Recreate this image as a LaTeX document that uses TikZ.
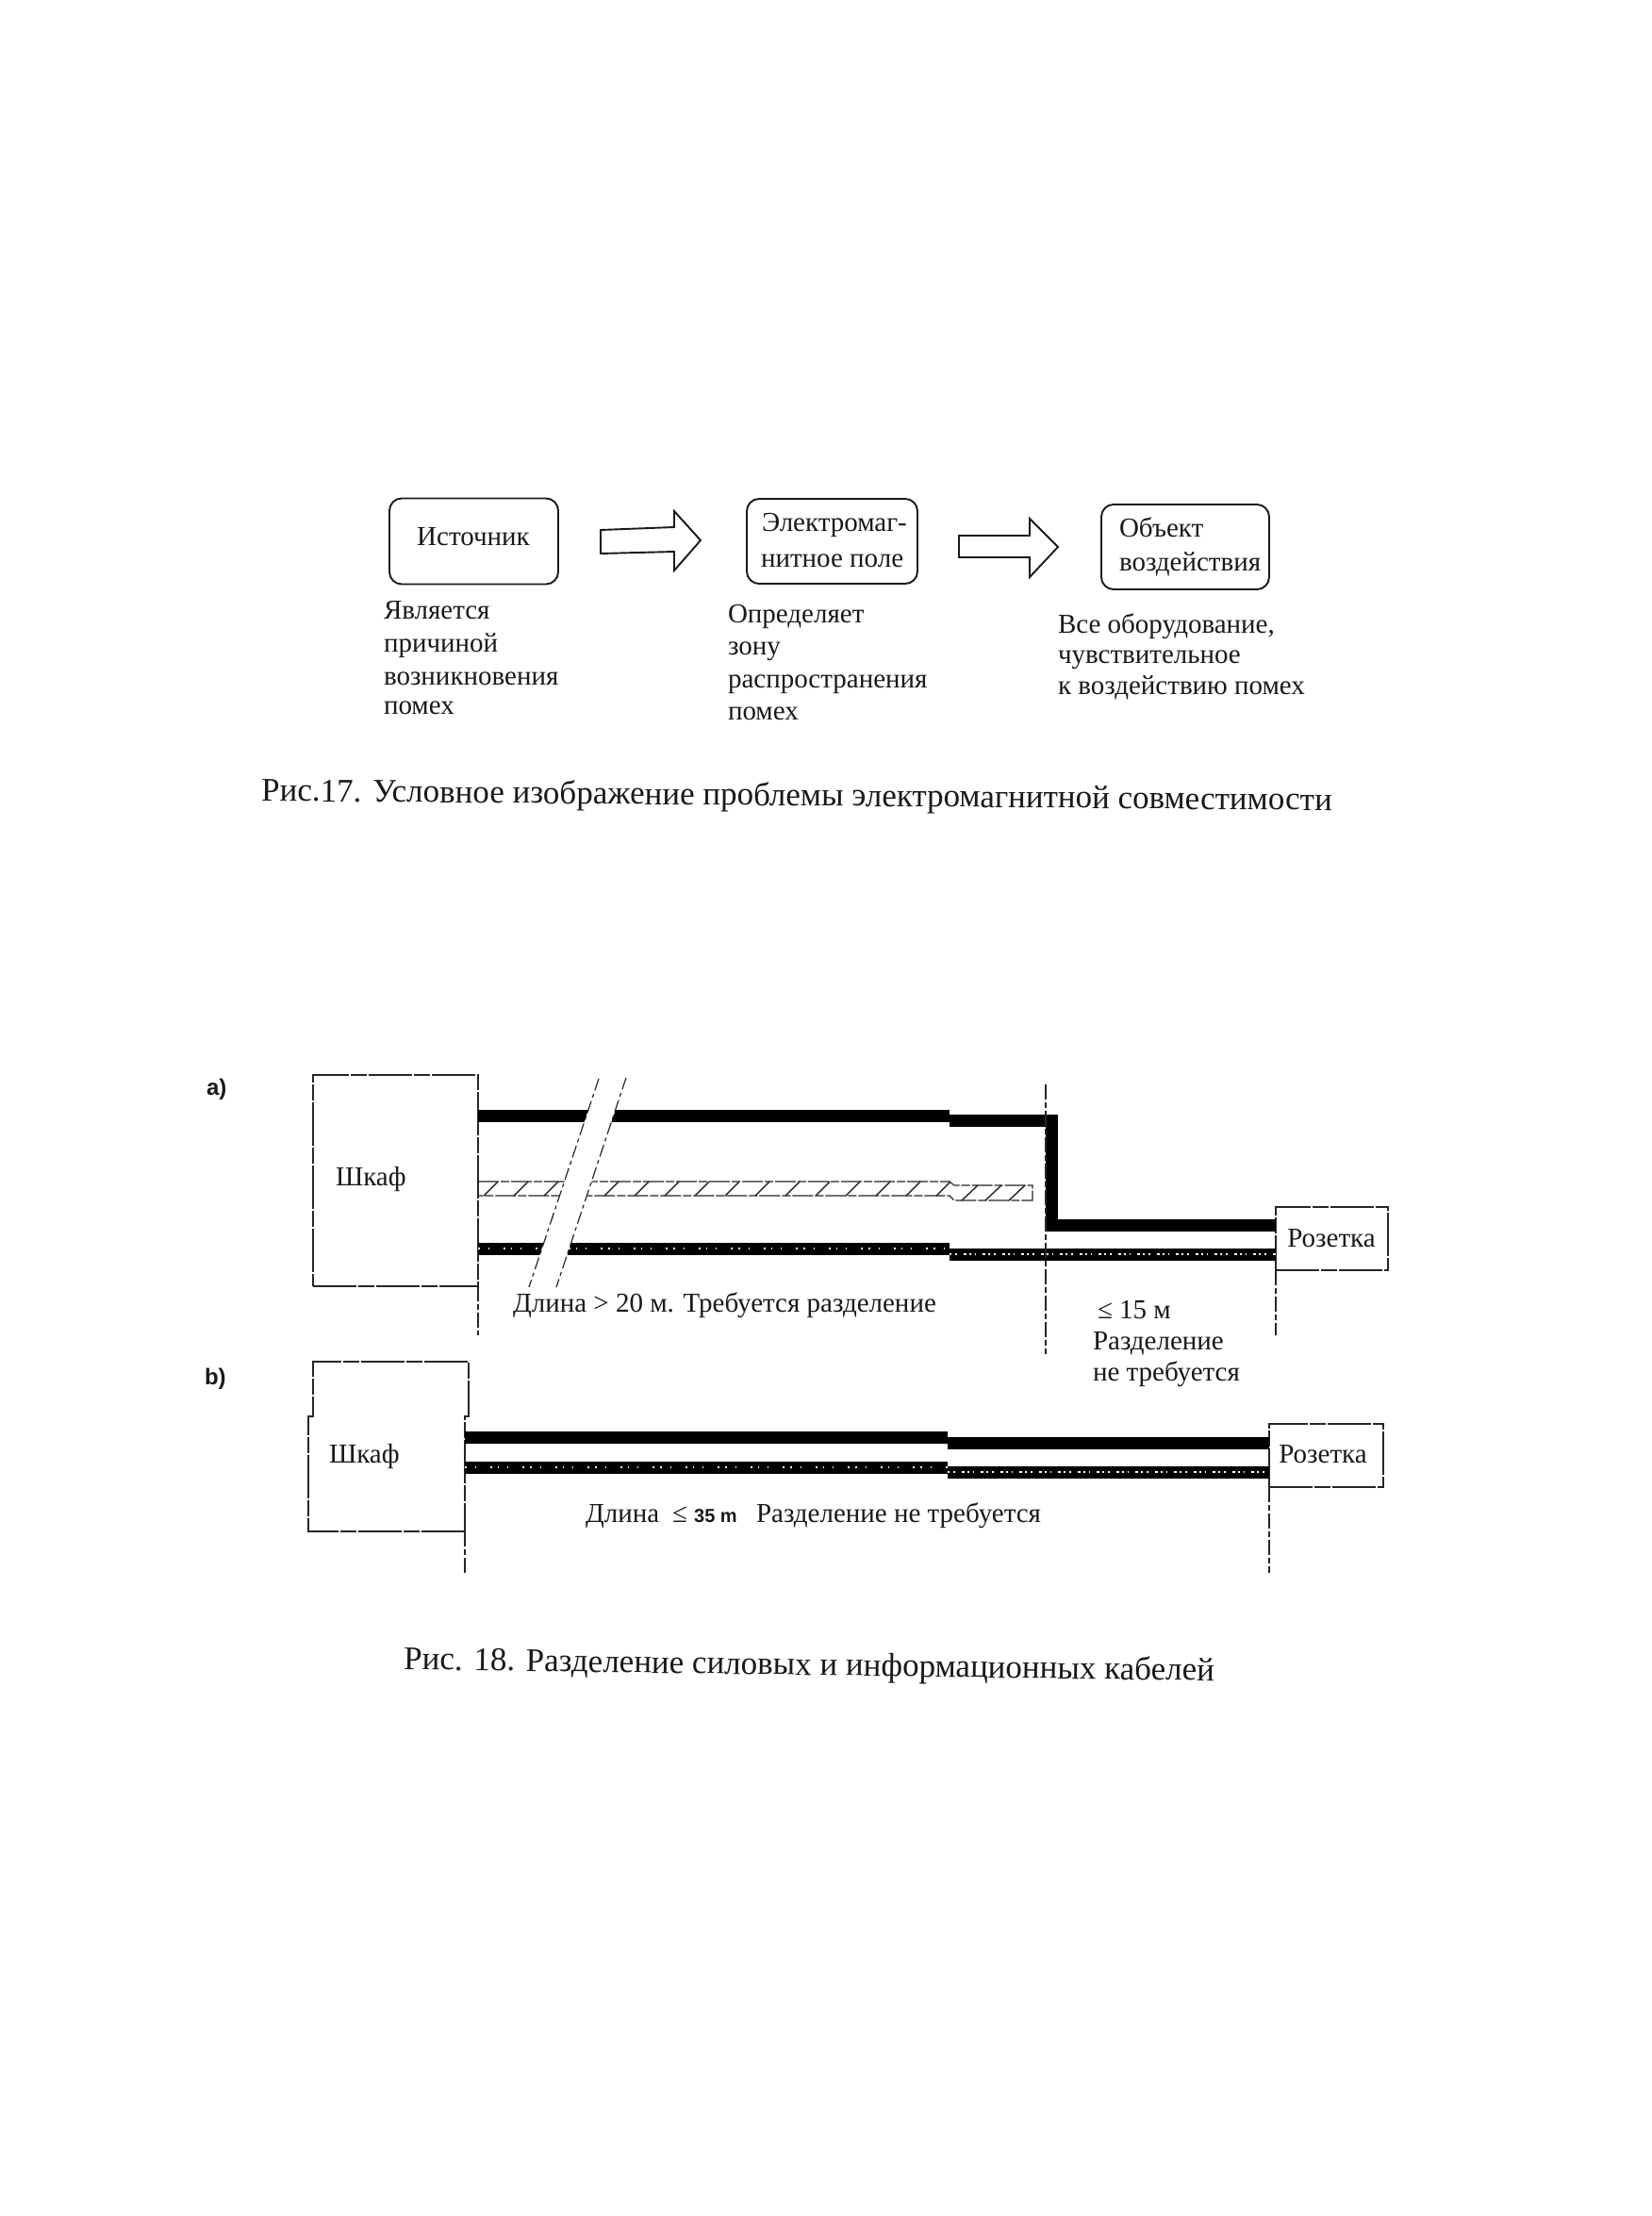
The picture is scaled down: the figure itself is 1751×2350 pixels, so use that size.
\documentclass[tikz,border=0pt]{standalone}
\usepackage{fontspec}
\setmainfont{Liberation Serif}
\setsansfont{Liberation Sans}
\newcommand{\fs}[1]{\fontsize{#1}{#1}\selectfont}
\tikzset{
  x=1pt,y=-1pt,
  every node/.style={inner sep=0pt,outer sep=0pt,text=black!90},
  lbl/.style={anchor=west,text height=0.68em,text depth=0.2em,font=\fs{29},yshift=-4pt},
  lblc/.style={anchor=center,text height=0.68em,text depth=0.2em,font=\fs{29},yshift=-4pt},
  roundbox/.style={draw=black!90,line width=1.9pt,rounded corners=13pt,minimum width=#1},
  rectbox/.style={draw=black!85,line width=1.5pt,dash pattern=on 46pt off 2pt on 17pt off 2pt,minimum width=#1},
  rectline/.style={draw=black!85,line width=1.5pt,dash pattern=on 46pt off 2pt on 17pt off 2pt},
  fat/.style={line width=13pt,black,line join=miter},
  speck/.style={line width=1.6pt,white,dash pattern=on 1.5pt off 9pt on 1pt off 15pt on 2pt off 6pt},
  speckb/.style={line width=2pt,white,dash pattern=on 2pt off 4pt on 1.5pt off 7pt on 3pt off 3pt},
  thindash/.style={line width=1.4pt,black!85,dash pattern=on 16pt off 3pt on 6pt off 3pt},
  slashline/.style={line width=1.2pt,black!85,dash pattern=on 13pt off 4pt on 4pt off 4pt},
  hatchedge/.style={line width=1.1pt,black!85,dash pattern=on 22pt off 2pt on 9pt off 2pt},
  hatchline/.style={line width=1.4pt,black!85},
  blockarrow/.style={draw=black!90,line width=1.9pt,fill=white,line join=miter},
}
\begin{document}
\begin{tikzpicture}
\useasboundingbox[fill=white] (0,0) rectangle (1751,2350);

% ---------- Fig. 17 ----------
\node[roundbox=179pt,minimum height=91pt] (src) at (502.5,574) {};
\node[roundbox=181pt,minimum height=90pt] (field) at (882.5,574) {};
\node[roundbox=178pt,minimum height=90pt] (obj) at (1257,580) {};
\node[lblc] (srct) at (502,572) {Источник};
\node[lbl] (f1) at (808,557) {Электромаг-};
\node[lbl] (f2) at (807,595) {нитное поле};
\node[lbl] (o1) at (1187,563) {Объект};
\node[lbl] (o2) at (1187,599) {воздействия};
\draw[blockarrow] (637,562) -- (715,559) -- (715,542) -- (743,573) -- (715,605) -- (715,585) -- (637,587) -- cycle;
\draw[blockarrow] (1017,568) -- (1092,568) -- (1092,550) -- (1122,580) -- (1092,612) -- (1092,591) -- (1017,591) -- cycle;

\node[lbl] at (407,650) {Является};
\node[lbl] at (407,685) {причиной};
\node[lbl] at (407,720) {возникновения};
\node[lbl] at (407,751) {помех};
\node[lbl] at (772,654) {Определяет};
\node[lbl] at (772,688) {зону};
\node[lbl] at (772,723) {распространения};
\node[lbl] at (772,757) {помех};
\node[lbl] at (1122,665) {Все оборудование,};
\node[lbl] at (1122,697) {чувствительное};
\node[lbl] at (1122,730) {к воздействию помех};
\node[lblc,font=\fs{35},rotate=-0.5] (cap17) at (845,848) {Рис.17. Условное изображение проблемы электромагнитной совместимости};

% ---------- Fig. 18 a ----------
\node[anchor=west,font=\sffamily\bfseries\fs{24}] (la) at (219,1155) {a)};
\node[rectbox=175pt,minimum height=224pt] (cabA) at (419.5,1252) {};
\node[rectbox=119pt,minimum height=67pt,fill=white] (sockA) at (1412.5,1313.5) {};
\node[lbl] at (356,1251) {Шкаф};
\node[lblc] at (1412,1316) {Розетка};
\coordinate (aT1) at (cabA.east |- 0,1183);
\coordinate (aT2) at (1007,1183);
\coordinate (aT3) at (1007,1188);
\coordinate (aT4) at (1115,1188);
\coordinate (aT5) at (1115,1299);
\coordinate (aT6) at (sockA.west |- 0,1299);
\coordinate (aB1) at (cabA.east |- 0,1324);
\coordinate (aB2) at (1007,1324);
\coordinate (aB3) at (1007,1330);
\coordinate (aB4) at (sockA.west |- 0,1330);
\draw[fat] (aT1) -- (aT2);
\draw[fat] (aT3) -- (aT4) -- (aT5) -- (aT6);
\draw[fat] (aB1) -- (aB2);
\draw[fat] (aB3) -- (aB4);
\draw[speck] (aB1) -- (aB2);
\draw[speckb] (aB3) -- (aB4);
% hatched band
\draw[hatchedge] (507,1253) -- (1007,1253) -- (1012,1257) -- (1095,1257) -- (1095,1273) -- (1012,1273) -- (1007,1268) -- (507,1268);
\foreach \hx in {513,545,577,609,641,673,705,737,769,801,833,865,897,929,961,993}
  \draw[hatchline] (\hx,1268) -- (\hx+15,1253);
\foreach \hx in {1020,1045,1070}
  \draw[hatchline] (\hx,1273) -- (\hx+17,1257);
% break
\fill[white] (635,1144) -- (664,1143) -- (590,1365) -- (561,1365) -- cycle;
\draw[slashline] (635,1144) -- (561,1365);
\draw[slashline] (664,1143) -- (590,1365);
% dimension lines
\coordinate (dA0) at (cabA.south east);
\coordinate (dA1) at (507,1416);
\coordinate (dA2) at (1109,1150);
\coordinate (dA3) at (1109,1436);
\coordinate (dA4) at (sockA.south west);
\coordinate (dA5) at (1353,1416);
\draw[thindash] (dA0) -- (dA1);
\draw[thindash] (dA2) -- (dA3);
\draw[thindash] (dA4) -- (dA5);
\node[lbl] at (544,1385) {Длина > 20 м. Требуется разделение};
\node[lbl] at (1164,1392) {≤ 15 м};
\node[lbl] at (1159,1425) {Разделение};
\node[lbl] at (1159,1458) {не требуется};

% ---------- Fig. 18 b ----------
\node[anchor=west,font=\sffamily\bfseries\fs{24}] (lb) at (217,1462) {b)};
\node[minimum width=166pt,minimum height=122pt] (cabB) at (410,1563) {};
\draw[rectline] (cabB.south east) -- (cabB.south west) -- (cabB.north west) -- (332,1502) -- (332,1444) -- (497,1444) -- (497,1502) -- (cabB.north east) -- cycle;
\node[rectbox=121pt,minimum height=67pt,fill=white] (sockB) at (1406.5,1543.5) {};
\node[lbl] at (349,1545) {Шкаф};
\node[lblc] at (1403,1545) {Розетка};
\coordinate (bT1) at (cabB.east |- 0,1524);
\coordinate (bT2) at (1005,1524);
\coordinate (bT3) at (1005,1530);
\coordinate (bT4) at (sockB.west |- 0,1530);
\coordinate (bB1) at (cabB.east |- 0,1556);
\coordinate (bB2) at (1005,1556);
\coordinate (bB3) at (1005,1561);
\coordinate (bB4) at (sockB.west |- 0,1561);
\draw[fat] (bT1) -- (bT2);
\draw[fat] (bT3) -- (bT4);
\draw[fat] (bB1) -- (bB2);
\draw[fat] (bB3) -- (bB4);
\draw[speck] (bB1) -- (bB2);
\draw[speckb] (bB3) -- (bB4);
\coordinate (dB0) at (cabB.south east);
\coordinate (dB1) at (493,1668);
\coordinate (dB2) at (sockB.south west);
\coordinate (dB3) at (1346,1668);
\draw[thindash] (dB0) -- (dB1);
\draw[thindash] (dB2) -- (dB3);
\node[lbl] at (621,1608) {Длина};
\node[lbl] at (713,1608) {≤ {\sffamily\bfseries\fs{20}35 m}};
\node[lbl] at (802,1608) {Разделение не требуется};

\node[lblc,font=\fs{35},rotate=-0.8] (cap18) at (858,1770) {Рис. 18. Разделение силовых и информационных кабелей};
\end{tikzpicture}
\end{document}
